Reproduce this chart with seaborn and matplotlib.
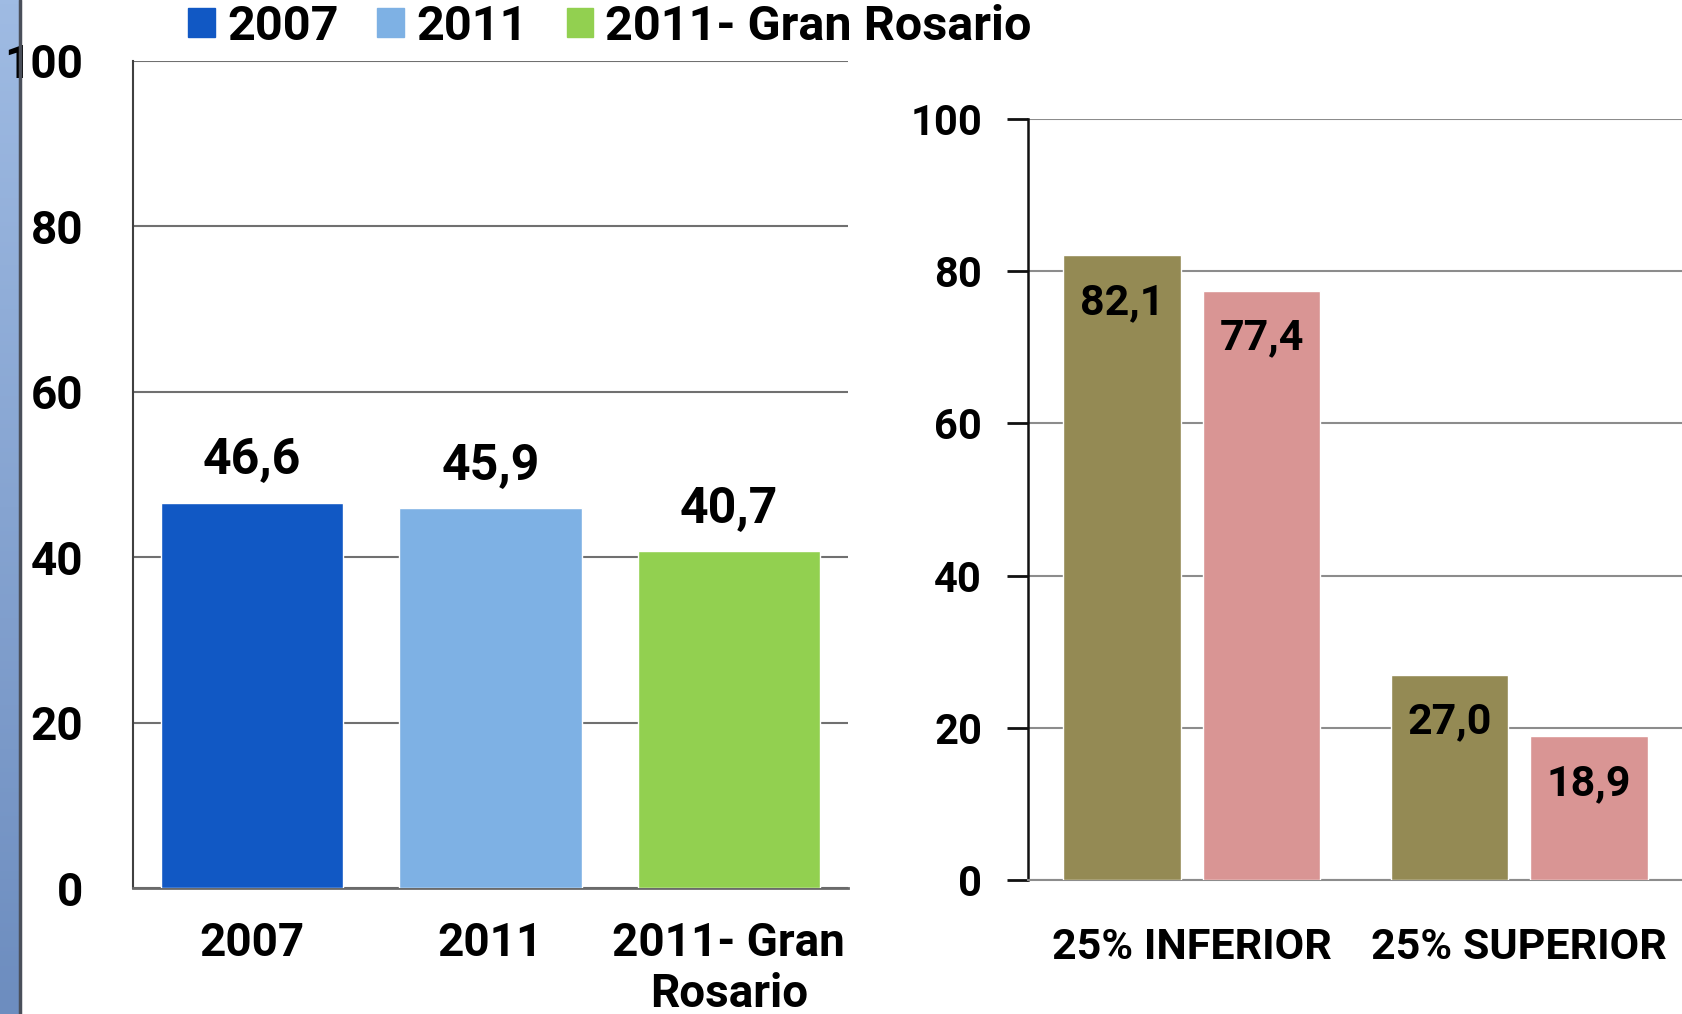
import matplotlib
matplotlib.use("Agg")
import matplotlib.pyplot as plt
import numpy as np
import pandas as pd
import seaborn as sns

# datos del panel izquierdo
years = ["2007", "2011", "2011- Gran Rosario"]
year_values = [46.6, 45.9, 40.7]
year_ticklabels = ["2007", "2011", "2011- Gran\nRosario"]
year_colors = ["#1158C4", "#7EB1E4", "#92D050"]

# datos del panel derecho
quartiles = ["25% INFERIOR", "25% SUPERIOR"]
series_names = ["serie 1", "serie 2"]
series1_values = [82.1, 27.0]
series2_values = [77.4, 18.9]
quartile_colors = ["#948A54", "#D99594"]

y_ticks = [0, 20, 40, 60, 80, 100]


def fmt(v):
    return f"{v:.1f}".replace(".", ",")


sns.set_style("white")
plt.rcParams["text.color"] = "black"
plt.rcParams["xtick.color"] = "black"
plt.rcParams["ytick.color"] = "black"
LEFT_FONT = ["Roboto", "DejaVu Sans"]
RIGHT_FONT = ["Roboto", "DejaVu Sans"]

W, H = 1683, 1014
fig = plt.figure(figsize=(W / 100, H / 100), dpi=100)

# franja azul decorativa a la izquierda
strip = fig.add_axes([0, 0, 20 / W, 1])
grad = np.linspace(0, 1, 256).reshape(-1, 1)
strip.imshow(grad, aspect="auto", cmap=matplotlib.colors.LinearSegmentedColormap.from_list(
    "strip", ["#9fbbe3", "#6d8dbf"]), extent=[0, 1, 0, 1], origin="upper")
strip.set_axis_off()
fig.add_artist(plt.Line2D([20 / W, 20 / W], [0, 1], color="#4a4f5a", lw=2.5))

# ---------------- panel izquierdo ----------------
ax1 = fig.add_axes([133 / W, 1 - 888 / H, (848 - 133) / W, (888 - 61) / H])
df_left = pd.DataFrame({"grupo": years, "valor": year_values})
sns.barplot(data=df_left, x="grupo", y="valor", hue="grupo", palette=year_colors,
            width=0.766, saturation=1, legend=False, ax=ax1, zorder=3)
ax1.set_ylim(0, 100)
ax1.set_yticks(y_ticks)
ax1.set_xlabel("")
ax1.set_ylabel("")
ax1.set_xticks(range(len(years)))
ax1.set_xticklabels(year_ticklabels, fontsize=33, fontweight="bold",
                    family=LEFT_FONT, linespacing=1.2)
ax1.tick_params(axis="x", length=0, pad=24)
ax1.tick_params(axis="y", length=0, pad=36, labelsize=33)
for lab in ax1.get_yticklabels():
    lab.set_fontweight("bold")
    lab.set_family(LEFT_FONT)
ax1.grid(axis="y", color="#707070", lw=1.5, zorder=0)
for side in ["top", "right"]:
    ax1.spines[side].set_visible(False)
ax1.spines["left"].set_color("#404040")
ax1.spines["left"].set_linewidth(1.5)
ax1.spines["bottom"].set_color("#6a6a6a")
ax1.spines["bottom"].set_linewidth(2)
for bar, v in zip(ax1.patches, year_values):
    ax1.annotate(fmt(v), (bar.get_x() + bar.get_width() / 2, bar.get_height()),
                 xytext=(0, 30), textcoords="offset points", ha="center", va="center",
                 fontsize=36, fontweight="bold", family=LEFT_FONT)

handles = [matplotlib.patches.Patch(color=c) for c in year_colors]
fig.legend(handles, years, loc="center left", bbox_to_anchor=(188 / W, 1 - 27 / H),
           ncol=3, frameon=False, handlelength=0.55, handleheight=0.55,
           handletextpad=0.25, columnspacing=0.8, borderaxespad=0, borderpad=0,
           prop={"family": LEFT_FONT, "weight": "bold", "size": 35})

# ---------------- panel derecho ----------------
ax2 = fig.add_axes([1028 / W, 1 - 880 / H, (W - 1028) / W, (880 - 119) / H])
df_right = pd.DataFrame({
    "cuartil": quartiles * 2,
    "serie": [series_names[0]] * len(quartiles) + [series_names[1]] * len(quartiles),
    "valor": series1_values + series2_values,
})
sns.barplot(data=df_right, x="cuartil", y="valor", hue="serie", palette=quartile_colors,
            width=0.852, gap=0.155, saturation=1, legend=False, ax=ax2, zorder=3)
ax2.set_ylim(0, 100)
ax2.set_xlim(-0.5, len(quartiles) - 0.5)
ax2.set_yticks(y_ticks)
ax2.set_xlabel("")
ax2.set_ylabel("")
ax2.set_xticks(np.arange(len(quartiles) + 1) - 0.5)
ax2.set_xticklabels([])
ax2.set_xticks(range(len(quartiles)), minor=True)
ax2.set_xticklabels(quartiles, minor=True, fontsize=31, fontweight="bold", family=RIGHT_FONT)
ax2.tick_params(axis="x", which="major", length=15, width=1.5, color="#8c8c8c", direction="out")
ax2.tick_params(axis="x", which="minor", length=0, pad=34)
ax2.tick_params(axis="y", length=15, width=2, color="#111111", direction="out",
                pad=18, labelsize=30, left=True)
for lab in ax2.get_yticklabels():
    lab.set_fontweight("bold")
    lab.set_family(RIGHT_FONT)
ax2.grid(axis="y", color="#8c8c8c", lw=1.5, zorder=0)
ax2.grid(axis="x", visible=False)
for side in ["top", "right"]:
    ax2.spines[side].set_visible(False)
ax2.spines["left"].set_color("#111111")
ax2.spines["left"].set_linewidth(1.8)
ax2.spines["bottom"].set_color("#8c8c8c")
ax2.spines["bottom"].set_linewidth(1.5)
for cont, vals in zip(ax2.containers, [series1_values, series2_values]):
    for bar, v in zip(cont, vals):
        ax2.annotate(fmt(v), (bar.get_x() + bar.get_width() / 2, bar.get_height()),
                     xytext=(0, -34), textcoords="offset points", ha="center", va="center",
                     fontsize=31, fontweight="bold", family=RIGHT_FONT)

fig.savefig("out.png", dpi=100, facecolor="white")
